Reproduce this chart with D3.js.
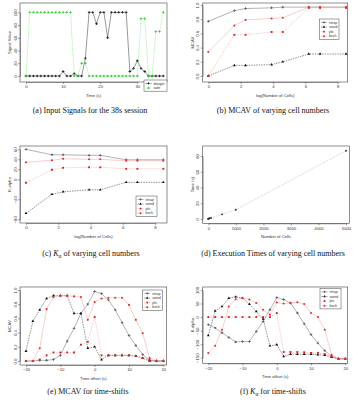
<!DOCTYPE html>
<html>
<head>
<meta charset="utf-8" />
<script src="https://d3js.org/d3.v7.min.js"></script>
<style>
  body { margin: 0; background: #fff; }
  svg { font-family: "Liberation Sans", Arial, sans-serif; }
  .cap { font-family: "Liberation Serif", "Times New Roman", serif; font-size: 8px; fill: #111; }
  .tk text { font-size: 4.2px; fill: #333; }
  .tk path, .tk line { stroke: #444; stroke-width: 0.5; }
  .ttl { font-size: 4.2px; fill: #333; }
  .lg { font-size: 3.6px; fill: #333; }
</style>
</head>
<body>
<svg id="chart" width="353" height="407"></svg>
<script>

// (a) input signals
var sessionTime = [0,1,2,3,4,5,6,7,8,9,10,11,12,13,14,15,16,17,18,19,20,21,22,23,24,25,26,27,28,29,30,31,32,33,34,35,36,37];
var dangerSignal = [0,0,0,0,0,0,0,0,0,0,7,0,0,4,0,0,28,100,100,82,100,100,60,100,100,100,100,100,7,12,24,12,7,0,0,0,0,0];
var safeSignal = [0,100,100,100,100,100,100,100,100,100,100,100,100,0,0,20,20,0,0,0,0,0,0,0,0,0,0,0,0,0,0,90,90,0,0,70,70,100];

// (b)-(d) varying cell numbers
var cellCounts = [1,5,10,50,100,500,1000,5000];
var mcavNtrap = [0.77,0.92,0.95,0.96,0.97,0.97,0.97,0.97];
var mcavSoind = [0.0,0.15,0.15,0.16,0.20,0.31,0.31,0.31];
var mcavPls   = [0.0,0.58,0.58,0.62,0.62,0.96,0.96,0.96];
var mcavBsch  = [0.34,0.71,0.79,0.81,0.82,0.97,0.97,0.97];

var kaNtrap = [60,49,49,48,48,39,39,39];
var kaSoind = [-68,-30,-25,-21,-21,-6,-6,-6];
var kaPls   = [-7,19,23,24,24,21,21,21];
var kaBsch  = [34,38,41,40,40,37,37,37];

var execTime = [0.1,0.2,0.4,1.1,1.3,5.9,11.8,86.7];

// (e)-(f) time shifts
var timeOffsets = [-20,-18,-16,-14,-12,-10,-8,-6,-4,-2,0,2,4,6,8,10,12,14,16,18,20];
var shiftMcavNtrap = [0,0,0.01,0.01,0.02,0.08,0.28,0.46,0.67,0.80,0.98,0.95,0.86,0.72,0.54,0.36,0.22,0.09,0.01,0,0];
var shiftMcavSoind = [0.14,0.56,0.72,0.88,0.92,0.92,0.92,0.67,0.67,0.18,0.20,0.02,0.08,0.08,0.08,0.08,0.07,0.04,0,0,0];
var shiftMcavPls   = [0,0,0.02,0.08,0.12,0.12,0.12,0.12,0.23,0.27,0.62,0.08,0.08,0.08,0.08,0.08,0.07,0.04,0.01,0,0];
var shiftMcavBsch  = [0,0,0.18,0.73,0.90,0.92,0.92,0.91,0.90,0.58,0.83,0.88,0.89,0.89,0.89,0.79,0.58,0.39,0.04,0,0];

var shiftKaNtrap = [-28,-40,-58,-75,-92,-90,-90,-53,-16,27,72,65,52,15,-25,-65,-96,-124,-145,-154,-154];
var shiftKaSoind = [-68,23,39,70,75,70,48,21,-7,-106,-102,-145,-137,-137,-137,-137,-139,-141,-148,-154,-154];
var shiftKaPls   = [0,0,0,0,0,0,0,0,0,0,15,-129,-129,-129,-130,-132,-132,-136,-145,-154,-154];
var shiftKaBsch  = [-133,-106,-47,39,66,70,65,52,27,9,54,50,52,55,48,15,0,-47,-139,-154,-154];

var svg = d3.select("#chart");

var styles = {
  danger: { line: "#333", mark: "#222", dash: null, sym: d3.symbolCross, name: "danger" },
  safe:   { line: "#55dd55", mark: "#33cc33", dash: "1,0.8", sym: d3.symbolCross, name: "safe" },
  ntrap:  { line: "#666", mark: "#555", dash: null, sym: d3.symbolCross, name: "ntrap" },
  soind:  { line: "#222", mark: "#111", dash: "1.5,1", sym: d3.symbolTriangle, name: "soind" },
  pls:    { line: "#f28080", mark: "#d42020", dash: "0.8,0.8", sym: d3.symbolSquare, name: "pls" },
  bsch:   { line: "#f49a9a", mark: "#e03030", dash: null, sym: d3.symbolCircle, name: "bsch" },
  time:   { line: "#999", mark: "#333", dash: "0.8,0.8", sym: d3.symbolCircle, name: "" }
};

function drawPanel(p) {
  var g = svg.append("g");
  var x = d3.scaleLinear().domain(p.xDom).range(p.xRng);
  var y = d3.scaleLinear().domain(p.yDom).range(p.yRng);
  var f = p.frame;

  var xa = g.append("g").attr("class", "tk")
    .attr("transform", "translate(0," + f[3] + ")")
    .call(d3.axisBottom(x).tickValues(p.xTicks).tickSize(2).tickSizeOuter(0).tickPadding(1.5)
      .tickFormat(d3.format("d")));
  var ya = g.append("g").attr("class", "tk")
    .attr("transform", "translate(" + f[0] + ",0)")
    .call(d3.axisLeft(y).tickValues(p.yTicks).tickSize(2).tickSizeOuter(0)
      .tickFormat(function(d, i) { return p.yLabels ? p.yLabels[i] : d3.format(p.yFmt || "d")(d); }));
  ya.selectAll("text")
    .attr("transform", "rotate(-90)")
    .attr("x", 0).attr("y", -3.4).attr("dy", 0)
    .attr("text-anchor", "middle");
  xa.select(".domain").attr("transform", "translate(0,0)");

  g.append("rect")
    .attr("x", f[0]).attr("y", f[1])
    .attr("width", f[2] - f[0]).attr("height", f[3] - f[1])
    .attr("fill", "none").attr("stroke", "#444").attr("stroke-width", 0.6);

  g.append("text").attr("class", "ttl")
    .attr("x", (f[0] + f[2]) / 2).attr("y", f[3] + 14.5)
    .attr("text-anchor", "middle").text(p.xTitle);
  g.append("text").attr("class", "ttl")
    .attr("transform", "translate(" + (f[0] - 9) + "," + ((f[1] + f[3]) / 2) + ") rotate(-90)")
    .attr("text-anchor", "middle").text(p.yTitle);

  var line = d3.line().x(function(d) { return x(d[0]); }).y(function(d) { return y(d[1]); });

  p.series.forEach(function(s) {
    var st = styles[s.key];
    var pts = s.xs.map(function(v, i) { return [v, s.ys[i]]; });
    g.append("path").datum(pts)
      .attr("d", line)
      .attr("fill", "none")
      .attr("stroke", st.line)
      .attr("stroke-width", 0.5)
      .attr("stroke-dasharray", st.dash);
    g.selectAll(null).data(pts).enter().append("path")
      .attr("transform", function(d) { return "translate(" + x(d[0]) + "," + y(d[1]) + ")"; })
      .attr("d", d3.symbol().type(st.sym).size(p.symSize || 3.5))
      .attr("fill", st.mark);
  });

  if (p.legend) {
    var L = p.legend;
    var lg = g.append("g").attr("transform", "translate(" + L[0] + "," + L[1] + ")");
    var h = p.series.length * 4.6 + 2;
    lg.append("rect").attr("width", L[2]).attr("height", h)
      .attr("fill", "#fff").attr("stroke", "#444").attr("stroke-width", 0.5);
    p.series.forEach(function(s, i) {
      var st = styles[s.key];
      var yy = 3.4 + i * 4.6;
      lg.append("line").attr("x1", 1.5).attr("x2", 7.5).attr("y1", yy).attr("y2", yy)
        .attr("stroke", st.line).attr("stroke-width", 0.5).attr("stroke-dasharray", st.dash);
      lg.append("path").attr("transform", "translate(4.5," + yy + ")")
        .attr("d", d3.symbol().type(st.sym).size(3)).attr("fill", st.mark);
      lg.append("text").attr("class", "lg").attr("x", 9.5).attr("y", yy + 1.2).text(st.name);
    });
  }
}

function caption(cx, cy, parts) {
  var t = svg.append("text").attr("class", "cap").attr("x", cx).attr("y", cy).attr("text-anchor", "middle");
  parts.forEach(function(p) {
    var ts = t.append("tspan").text(p.t);
    if (p.italic) ts.attr("font-style", "italic");
    if (p.sub) ts.attr("font-size", "5.5px").attr("dy", 1.5);
    if (p.back) ts.attr("dy", -1.5);
  });
}

var logCells = cellCounts.map(function(n) { return Math.log(n); });

// (a)
drawPanel({
  frame: [20, 3, 167, 82],
  xDom: [0, 30], xRng: [26, 137.3], xTicks: [0, 10, 20, 30],
  yDom: [0, 100], yRng: [76, 12.3], yTicks: [0, 20, 40, 60, 80, 100],
  xTitle: "Time (s)", yTitle: "Signal Value",
  series: [
    { key: "danger", xs: sessionTime, ys: dangerSignal },
    { key: "safe", xs: sessionTime, ys: safeSignal }
  ],
  legend: [144, 80, 23]
});
caption(90, 112.5, [{ t: "(a) Input Signals for the 38s session" }]);

// (b)
drawPanel({
  frame: [202.7, 3, 347.7, 82],
  xDom: [0, 8], xRng: [208.3, 337.7], xTicks: [0, 2, 4, 6, 8],
  yDom: [0, 1], yRng: [76, 5], yTicks: [0, 0.2, 0.4, 0.6, 0.8, 1.0], yFmt: ".1f",
  xTitle: "log(Number of Cells)", yTitle: "MCAV",
  series: [
    { key: "ntrap", xs: logCells, ys: mcavNtrap },
    { key: "soind", xs: logCells, ys: mcavSoind },
    { key: "pls", xs: logCells, ys: mcavPls },
    { key: "bsch", xs: logCells, ys: mcavBsch }
  ],
  legend: [319.5, 19, 19.5]
});
caption(273, 112.5, [{ t: "(b) MCAV of varying cell numbers" }]);

// (c)
drawPanel({
  frame: [20, 146, 167, 223],
  xDom: [0, 8], xRng: [26, 155], xTicks: [0, 2, 4, 6, 8],
  yDom: [-80, 60], yRng: [219.3, 149.3], yTicks: [-80, -40, 0, 20, 40, 60],
  xTitle: "log(Number of Cells)", yTitle: "K-alpha",
  series: [
    { key: "ntrap", xs: logCells, ys: kaNtrap },
    { key: "soind", xs: logCells, ys: kaSoind },
    { key: "pls", xs: logCells, ys: kaPls },
    { key: "bsch", xs: logCells, ys: kaBsch }
  ],
  legend: [136, 196, 21]
});
caption(91, 256, [{ t: "(c) " }, { t: "K", italic: true }, { t: "α", sub: true }, { t: " of varying cell numbers", back: true }]);

// (d)
drawPanel({
  frame: [202.7, 146, 349.3, 223.3],
  xDom: [0, 5000], xRng: [208.3, 346], xTicks: [0, 1000, 2000, 3000, 4000, 5000],
  yDom: [0, 80], yRng: [219, 156], yTicks: [0, 20, 40, 60, 80],
  xTitle: "Number of Cells", yTitle: "Time (s)",
  symSize: 3,
  series: [
    { key: "time", xs: cellCounts, ys: execTime }
  ]
});
caption(273, 256, [{ t: "(d) Execution Times of varying cell numbers" }]);

// (e)
drawPanel({
  frame: [20, 287, 166.7, 365],
  xDom: [-20, 20], xRng: [26, 163.3], xTicks: [-20, -10, 0, 10, 20],
  yDom: [0, 1], yRng: [361, 290], yTicks: [0, 0.2, 0.4, 0.6, 0.8, 1.0], yFmt: ".1f",
  xTitle: "Time offset (s)", yTitle: "MCAV",
  series: [
    { key: "ntrap", xs: timeOffsets, ys: shiftMcavNtrap },
    { key: "soind", xs: timeOffsets, ys: shiftMcavSoind },
    { key: "pls", xs: timeOffsets, ys: shiftMcavPls },
    { key: "bsch", xs: timeOffsets, ys: shiftMcavBsch }
  ],
  legend: [142.7, 290, 19.6]
});
caption(88, 394, [{ t: "(e) MCAV for time-shifts" }]);

// (f)
drawPanel({
  frame: [202.7, 287, 347.7, 363.3],
  xDom: [-20, 20], xRng: [208.3, 345.3], xTicks: [-20, -10, 0, 10, 20],
  yDom: [-150, 100], yRng: [357.7, 290], yTicks: [-150, -100, -50, 0, 50, 100],
  xTitle: "Time offset (s)", yTitle: "K-alpha",
  series: [
    { key: "ntrap", xs: timeOffsets, ys: shiftKaNtrap },
    { key: "soind", xs: timeOffsets, ys: shiftKaSoind },
    { key: "pls", xs: timeOffsets, ys: shiftKaPls },
    { key: "bsch", xs: timeOffsets, ys: shiftKaBsch }
  ],
  legend: [320, 288.5, 21]
});
caption(273, 394, [{ t: "(f) " }, { t: "K", italic: true }, { t: "α", sub: true }, { t: " for time-shifts", back: true }]);

</script>
</body>
</html>
